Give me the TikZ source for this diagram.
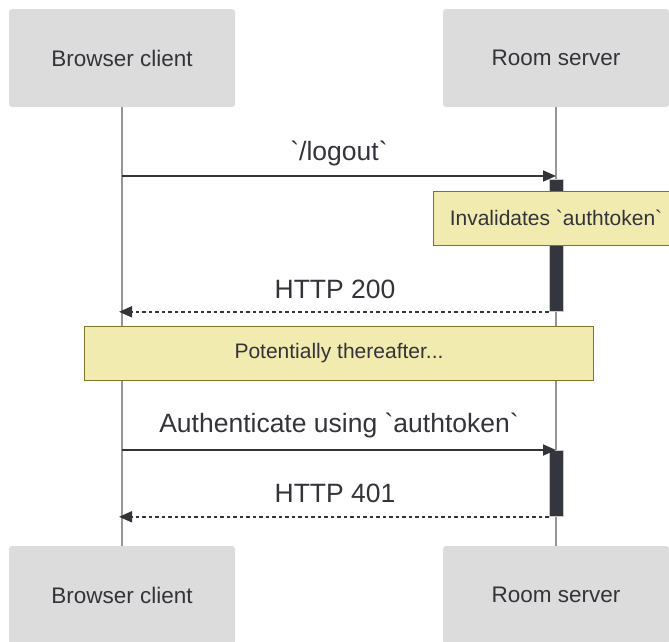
\documentclass[tikz,border=0pt]{standalone}
\usepackage{fontspec}
\setmainfont{Liberation Sans}[Ligatures=TeXOff]
\definecolor{actorgray}{RGB}{220,220,220}
\definecolor{inkgray}{RGB}{51,51,58}
\definecolor{linegray}{RGB}{150,150,150}
\definecolor{bardark}{RGB}{52,54,62}
\definecolor{barrim}{RGB}{200,200,200}
\definecolor{notefill}{RGB}{242,235,176}
\definecolor{noteedge}{RGB}{128,116,40}
\usetikzlibrary{arrows.meta, positioning, calc}

\begin{document}
\begin{tikzpicture}[x=1pt, y=-1pt,
        actor/.style={rectangle, fill=actorgray, rounded corners=3pt, minimum width=226pt, minimum height=98pt, text=inkgray, font=\fontsize{22.5}{27}\selectfont},
        lifeline/.style={draw=linegray, line width=1.2pt},
        actbar/.style={rectangle, fill=bardark, draw=barrim, line width=0.8pt, minimum width=14pt, inner sep=0pt, anchor=north},
        notebox/.style={rectangle, fill=notefill, draw=noteedge, line width=1pt, minimum height=54pt, text=inkgray, font=\fontsize{21}{25}\selectfont},
        msg/.style={-{Triangle[length=13pt,width=11pt]}, line width=1.7pt, inkgray},
        reply/.style={msg, dash pattern=on 3.5pt off 3pt},
        msglabel/.style={text=inkgray, font=\fontsize{26.5}{31}\selectfont}
    ]
        \useasboundingbox (0,0) rectangle (669,641);
        \clip (0,0) rectangle (669,641);

        % participants, top and bottom
        \node[actor] (bcTop) at (122,58) {Browser client};
        \node[actor] (rsTop) at (556,58) {Room server};
        \node[actor] (bcBot) at (122,595) {Browser client};
        \node[actor] (rsBot) at (556,595) {Room server};

        \draw[lifeline] (bcTop) -- (bcBot);
        \draw[lifeline] (rsTop) -- (rsBot);

        % activations on the server
        \node[actbar, minimum height=132pt] (act1) at (556,179) {};
        \node[actbar, minimum height=66pt] (act2) at (556,450) {};

        % notes
        \node[notebox, minimum width=245pt] (invNote) at (556,218) {Invalidates `authtoken`};
        \node[notebox, minimum width=509pt] (laterNote) at (339,353) {Potentially thereafter...};

        % message end points
        \coordinate (logoutS) at (bcTop.south |- 0,176);
        \coordinate (logoutE) at (rsTop.south |- 0,176);
        \coordinate (ok200E) at ([xshift=-3pt]bcTop.south |- act1.south);
        \coordinate (authS) at (bcTop.south |- 0,450);
        \coordinate (authE) at (rsTop.south |- 0,450);
        \coordinate (err401E) at ([xshift=-3pt]bcTop.south |- act2.south);

        \draw[msg] (logoutS) -- (logoutE);
        \draw[reply] (act1.south west) -- (ok200E);
        \draw[msg] (authS) -- (authE);
        \draw[reply] (act2.south west) -- (err401E);

        \node[msglabel] (logoutLbl) at (339,153) {`/logout`};
        \node[msglabel] (ok200Lbl) at (335,289) {HTTP 200};
        \node[msglabel] (authLbl) at (339,425) {Authenticate using `authtoken`};
        \node[msglabel] (err401Lbl) at (335,493) {HTTP 401};
    \end{tikzpicture}
\end{document}
